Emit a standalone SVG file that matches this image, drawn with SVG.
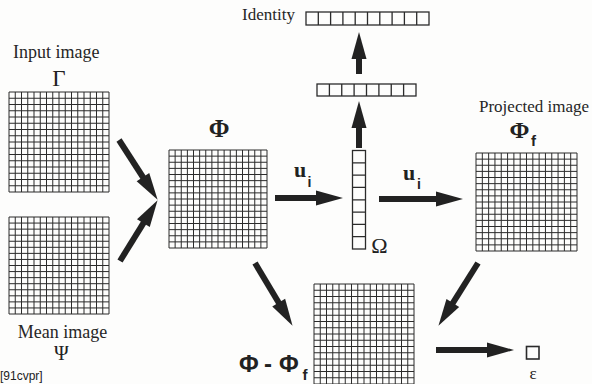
<svg xmlns="http://www.w3.org/2000/svg" xmlns:xlink="http://www.w3.org/1999/xlink" width="592" height="384" viewBox="0 0 592 384">
  <style>
    .bg { fill: #fdfdfc; }
    .cells { fill: none; stroke: #2b2b2b; stroke-width: 1; vector-effect: non-scaling-stroke; }
    .box { fill: none; stroke: #2b2b2b; stroke-width: 1.3; }
    .lbl { font-family: "Liberation Serif", "Times New Roman", serif; fill: #262626; }
    .sym { font-family: "Liberation Serif", "Times New Roman", serif; fill: #222; }
    .bold { font-weight: bold; }
    .sans { font-family: "Liberation Sans", Arial, sans-serif; }
    .shaft { stroke: #222; stroke-width: 6; fill: none; marker-end: url(#head); }
  </style>
  <defs>
    <marker id="head" markerUnits="userSpaceOnUse" markerWidth="30" markerHeight="18" viewBox="0 -9 30 18" refX="1" refY="0" orient="auto" overflow="visible">
      <path d="M0,-7.5 L27,0 L0,7.5 Z" fill="#222"/>
    </marker>
    <!-- 16 x 16 pixel image on a 100 x 100 frame -->
    <g id="grid">
      <rect class="cells" x="0" y="0" width="100" height="100"/>
      <path class="cells" d="M6.25,0V100M12.5,0V100M18.75,0V100M25,0V100M31.25,0V100M37.5,0V100M43.75,0V100M50,0V100M56.25,0V100M62.5,0V100M68.75,0V100M75,0V100M81.25,0V100M87.5,0V100M93.75,0V100M0,6.25H100M0,12.5H100M0,18.75H100M0,25H100M0,31.25H100M0,37.5H100M0,43.75H100M0,50H100M0,56.25H100M0,62.5H100M0,68.75H100M0,75H100M0,81.25H100M0,87.5H100M0,93.75H100"/>
    </g>
  </defs>

  <rect class="bg" x="0" y="0" width="592" height="384"/>

  <g id="input-image">
    <text class="lbl" x="13" y="58" font-size="18">Input image</text>
    <text class="sym" x="59" y="86" font-size="23" text-anchor="middle">Γ</text>
    <use xlink:href="#grid" transform="translate(9,92)"/>
  </g>

  <g id="mean-image">
    <use xlink:href="#grid" transform="translate(9,217) scale(1,0.97)"/>
    <text class="lbl" x="62.5" y="338" font-size="18" text-anchor="middle">Mean image</text>
    <text class="sym" x="61.5" y="360" font-size="20" text-anchor="middle">Ψ</text>
  </g>

  <g id="phi">
    <text class="sym bold" x="219" y="137" font-size="25" text-anchor="middle">Φ</text>
    <use xlink:href="#grid" transform="translate(169,150) scale(0.98)"/>
  </g>

  <g id="omega">
    <rect class="box" x="352.5" y="150.5" width="13" height="98.5"/>
    <path class="box" d="M352.5,162.8H365.5M352.5,175.1H365.5M352.5,187.4H365.5M352.5,199.8H365.5M352.5,212.1H365.5M352.5,224.4H365.5M352.5,236.7H365.5"/>
    <text class="sym" x="379.5" y="253" font-size="22" text-anchor="middle">Ω</text>
  </g>

  <g id="weights">
    <rect class="box" x="317" y="84" width="99" height="12"/>
    <path class="box" d="M329.4,84V96M341.75,84V96M354.1,84V96M366.5,84V96M378.9,84V96M391.25,84V96M403.6,84V96"/>
  </g>

  <g id="identity">
    <text class="lbl" x="242" y="20" font-size="17">Identity</text>
    <rect class="box" x="306" y="12" width="123" height="13"/>
    <path class="box" d="M318.3,12V25M330.6,12V25M342.9,12V25M355.2,12V25M367.5,12V25M379.8,12V25M392.1,12V25M404.4,12V25M416.7,12V25"/>
  </g>

  <g id="projected-image">
    <text class="lbl" x="479" y="112" font-size="17">Projected image</text>
    <text class="sym bold" x="519.5" y="137.5" font-size="24" text-anchor="middle">Φ</text>
    <text class="sans bold" x="531" y="146" font-size="15" fill="#222">f</text>
    <use xlink:href="#grid" transform="translate(476,153) scale(1.01,0.98)"/>
  </g>

  <g id="difference">
    <use xlink:href="#grid" transform="translate(314,284)"/>
    <text class="sans bold" y="372" font-size="24" fill="#222"><tspan x="239">Φ</tspan><tspan x="264">-</tspan><tspan x="279">Φ</tspan></text>
    <text class="sans bold" x="302.5" y="380" font-size="15" fill="#222">f</text>
  </g>

  <g id="epsilon">
    <rect x="526.5" y="346.5" width="12.5" height="12.5" fill="none" stroke="#2b2b2b" stroke-width="1.6"/>
    <text class="sym" x="533" y="379" font-size="17" text-anchor="middle">ε</text>
  </g>

  <g id="connectors">
    <line class="shaft" x1="119" y1="140" x2="143.5" y2="178"/>
    <line class="shaft" x1="120" y1="261" x2="143.9" y2="222.3"/>
    <line class="shaft" x1="275" y1="198" x2="317" y2="198"/>
    <line class="shaft" x1="379" y1="199" x2="437" y2="199"/>
    <line class="shaft" x1="359" y1="148" x2="359" y2="127"/>
    <line class="shaft" x1="359" y1="74" x2="359" y2="58"/>
    <line class="shaft" x1="255" y1="263" x2="279.2" y2="303.5"/>
    <line class="shaft" x1="478" y1="263" x2="452.3" y2="303.8"/>
    <line class="shaft" x1="436" y1="350" x2="488" y2="350"/>
    <text class="sym bold" x="294" y="177" font-size="22">u</text>
    <text class="sans bold" x="307.5" y="187" font-size="14" fill="#222">i</text>
    <text class="sym bold" x="403" y="180" font-size="22">u</text>
    <text class="sans bold" x="417" y="189" font-size="14" fill="#222">i</text>
  </g>

  <text class="sans" x="0" y="380" font-size="12" fill="#222">[91cvpr]</text>
</svg>
